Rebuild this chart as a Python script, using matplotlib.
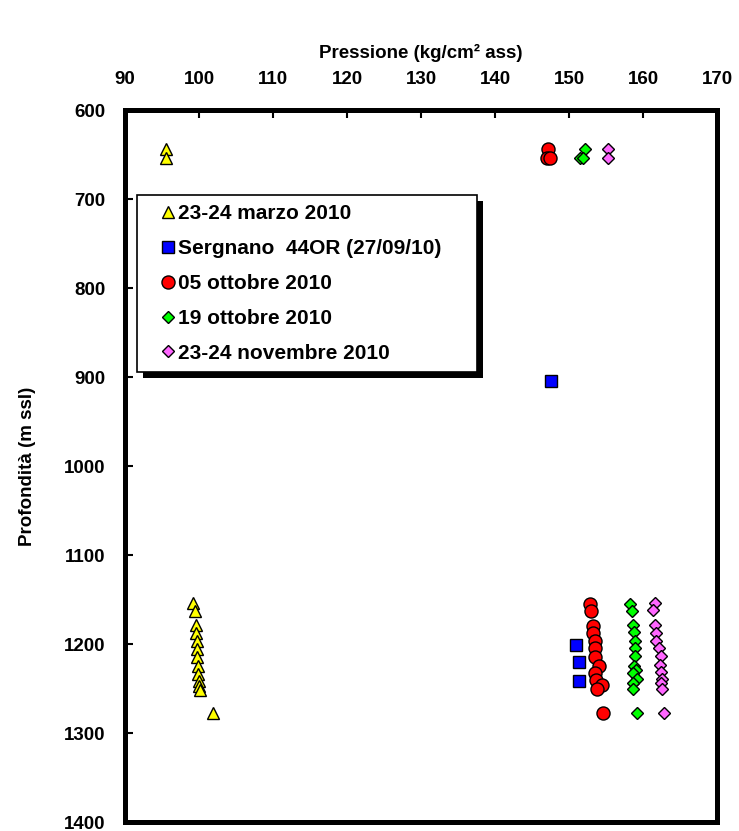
import matplotlib
matplotlib.use("Agg")
import matplotlib.pyplot as plt
from matplotlib.patches import Rectangle
from matplotlib.transforms import IdentityTransform

plt.rcParams['font.family'] = ['Liberation Sans', 'DejaVu Sans']
plt.rcParams['font.weight'] = 'bold'

# pressione (kg/cm2 ass) e profondita' (m ssl) per ogni campagna
marzo_x = [95.6, 95.6, 99.2, 99.4, 99.6, 99.6, 99.7, 99.7, 99.7, 99.9, 99.9, 100.0, 100.0, 100.1, 101.9]
marzo_y = [644, 654, 1154, 1163, 1179, 1188, 1197, 1206, 1215, 1225, 1234, 1242, 1247, 1252, 1277]

sergnano_x = [147.6, 151.0, 151.3, 151.4]
sergnano_y = [905, 1201, 1220, 1242]

ott05_x = [147.2, 147.0, 147.5, 152.8, 153.0, 153.2, 153.3, 153.5, 153.5, 153.5, 154.1, 153.5, 153.7, 154.4, 153.8, 154.6]
ott05_y = [644, 654, 654, 1155, 1163, 1180, 1188, 1197, 1204, 1215, 1225, 1232, 1240, 1246, 1251, 1277]

ott19_x = [152.2, 151.5, 151.9, 158.2, 158.5, 158.7, 158.8, 158.9, 158.9, 158.9, 158.8, 159.1, 158.6, 159.2, 158.7, 158.7, 159.2]
ott19_y = [644, 654, 654, 1155, 1163, 1179, 1187, 1197, 1205, 1214, 1225, 1229, 1233, 1239, 1244, 1251, 1277]

nov_x = [155.3, 155.3, 161.6, 161.4, 161.6, 161.8, 161.8, 162.2, 162.4, 162.3, 162.5, 162.6, 162.5, 162.6, 162.9]
nov_y = [644, 654, 1154, 1162, 1179, 1188, 1197, 1205, 1214, 1224, 1231, 1239, 1244, 1251, 1277]

x_ticks = [90, 100, 110, 120, 130, 140, 150, 160, 170]
y_ticks = [600, 700, 800, 900, 1000, 1100, 1200, 1300, 1400]

fig = plt.figure(figsize=(7.39, 8.31), dpi=100)
ax = fig.add_axes([0.1691, 0.0108, 0.8011, 0.8568])
ax.set_facecolor('none')

ax.plot(marzo_x, marzo_y, ls='none', marker='^', ms=9, mfc='#FFFF00', mec='black', mew=1,
        label='23-24 marzo 2010')
ax.plot(sergnano_x, sergnano_y, ls='none', marker='s', ms=9, mfc='#0000FF', mec='black', mew=1,
        label='Sergnano  44OR (27/09/10)')
ax.plot(ott05_x, ott05_y, ls='none', marker='o', ms=9.4, mfc='#FF0000', mec='black', mew=1,
        label='05 ottobre 2010')
ax.plot(ott19_x, ott19_y, ls='none', marker='D', ms=6.5, mfc='#00FF00', mec='black', mew=1,
        label='19 ottobre 2010')
ax.plot(nov_x, nov_y, ls='none', marker='D', ms=6.5, mfc='#FF66FF', mec='black', mew=1,
        label='23-24 novembre 2010')

ax.set_xlim(90, 170)
ax.set_ylim(1400, 600)
ax.set_xticks(x_ticks)
ax.set_yticks(y_ticks)
ax.xaxis.tick_top()
ax.xaxis.set_label_position('top')
ax.tick_params(axis='x', direction='in', length=6, width=1.5, pad=16, labelsize=13.5)
ax.tick_params(axis='y', direction='in', length=6, width=1.5, pad=14, labelsize=13.5)
for s in ax.spines.values():
    s.set_linewidth(3.6)

ax.set_xlabel('Pressione (kg/cm² ass)', fontsize=13.5, fontweight='bold', labelpad=9)
ax.set_ylabel('Profondità (m ssl)', fontsize=13.5, fontweight='bold', labelpad=20)

leg = ax.legend(loc='upper left', bbox_to_anchor=(0.0203, 0.8806, 0.574, 0), mode='expand',
                borderaxespad=0, fontsize=15, frameon=True, fancybox=False, numpoints=1,
                handlelength=2.1, handletextpad=-0.6, labelspacing=0.76, borderpad=0.45,
                framealpha=1, facecolor='white', edgecolor='black')
leg.get_frame().set_linewidth(1.2)
leg.set_zorder(5)

# ombra nera della legenda
fig.canvas.draw()
bb = leg.get_window_extent()
ax.add_artist(Rectangle((bb.x0 + 6, bb.y0 - 6), bb.width, bb.height, transform=IdentityTransform(),
                        facecolor='black', edgecolor='none', zorder=4.9, clip_on=False))

fig.savefig('out.png', dpi=100)
